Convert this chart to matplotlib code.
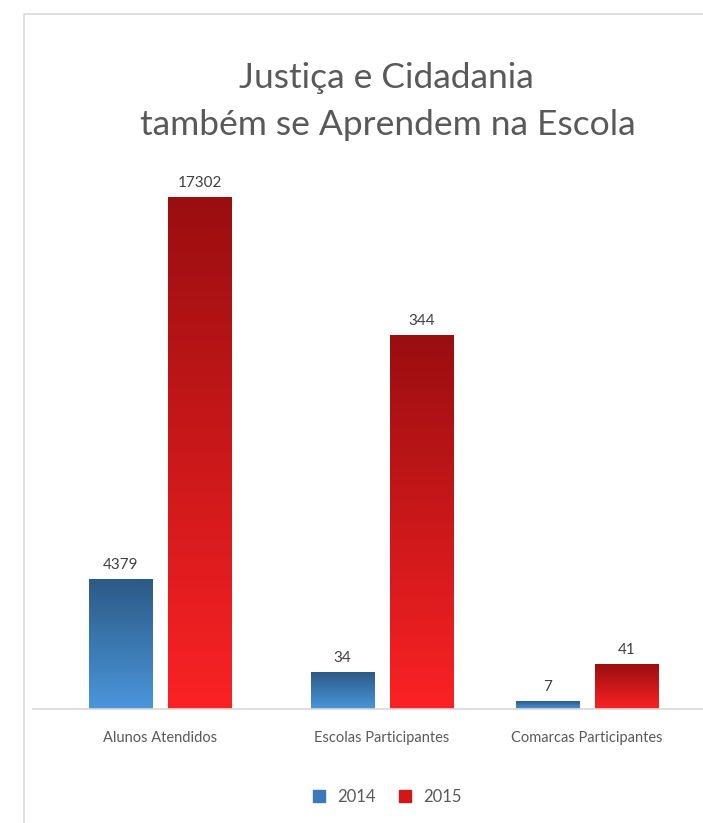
import matplotlib.pyplot as plt
import numpy as np
from matplotlib.colors import LinearSegmentedColormap
from matplotlib.lines import Line2D
from matplotlib.patches import Rectangle

# Data
categories = ["Alunos Atendidos", "Escolas Participantes", "Comarcas Participantes"]
years = ["2014", "2015"]
values_2014 = [4379, 34, 7]
values_2015 = [17302, 344, 41]
# the original chart uses its own vertical scale per group
group_ymax = [17302, 471, 471]

W, H = 703, 823
plt.rcParams['font.family'] = ['Lato', 'DejaVu Sans']

fig = plt.figure(figsize=(W / 100, H / 100), dpi=100)
fig.patch.set_facecolor('white')

# light border round the chart area
fig.add_artist(Rectangle((24 / W, -0.1), 1.2, (H - 14) / H + 0.1, transform=fig.transFigure,
                         fill=False, edgecolor='#d9d9d9', linewidth=1.2))

# title
fig.text(386 / W, 1 - 78 / H, "Justiça e Cidadania", ha='center', va='center',
         fontsize=25.5, color='#595959')
fig.text(388 / W, 1 - 125 / H, "também se Aprendem na Escola", ha='center', va='center',
         fontsize=25.5, color='#595959')

blue_cmap = LinearSegmentedColormap.from_list('b', ['#4a96da', '#2c5a86'])
red_cmap = LinearSegmentedColormap.from_list('r', ['#fb2224', '#9a0e10'])

base_y = 709
top_y = 197
unit = 79  # px per x unit
group_centers = [160, 382, 587]
half_w = 100

for i, cat in enumerate(categories):
    cx = group_centers[i]
    ax = fig.add_axes([(cx - half_w) / W, (H - base_y) / H, 2 * half_w / W, (base_y - top_y) / H])
    ax.set_xlim(-half_w / unit, half_w / unit)
    ax.set_ylim(0, group_ymax[i])
    ax.patch.set_alpha(0)
    for sp in ax.spines.values():
        sp.set_visible(False)
    ax.set_yticks([])
    ax.set_xticks([0])
    ax.set_xticklabels([cat], fontsize=10.5, color='#595959')
    ax.tick_params(axis='x', length=0, pad=16)

    for x, v, cmap in [(-0.5, values_2014[i], blue_cmap), (0.5, values_2015[i], red_cmap)]:
        bar = ax.bar(x, v, width=0.8, color='none', edgecolor='none')[0]
        grad = np.linspace(1, 0, 256).reshape(-1, 1)
        im = ax.imshow(grad, extent=[x - 0.4, x + 0.4, 0, v], aspect='auto', cmap=cmap,
                       vmin=0, vmax=1, zorder=2)
        im.set_clip_path(bar)
        ax.annotate(str(v), (x, v), xytext=(0, 5), textcoords='offset points',
                    ha='center', va='bottom', fontsize=11, color='#404040')
    ax.set_xlim(-half_w / unit, half_w / unit)
    ax.set_ylim(0, group_ymax[i])

# baseline
fig.add_artist(Line2D([33 / W, 1], [(H - base_y) / H] * 2, transform=fig.transFigure,
                      color='#d9d9d9', linewidth=1.2))

# legend
handles = [Line2D([], [], marker='s', linestyle='none', markersize=8, color='#3a78b8'),
           Line2D([], [], marker='s', linestyle='none', markersize=8, color='#d01818')]
fig.legend(handles, years, loc='center', bbox_to_anchor=(382 / W, 1 - 797 / H), ncol=2,
           frameon=False, fontsize=12, handletextpad=0.1, columnspacing=0.8,
           labelcolor='#595959')

fig.savefig('out.png', dpi=100)
